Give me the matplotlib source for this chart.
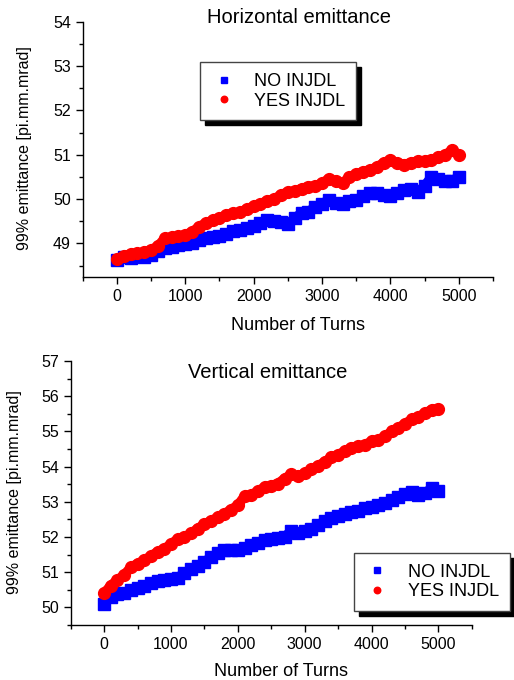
import numpy as np
import matplotlib
matplotlib.use('Agg')
import matplotlib.pyplot as plt
from matplotlib.ticker import MultipleLocator
from matplotlib.patches import Rectangle
from matplotlib.transforms import IdentityTransform

plt.rcParams['font.family'] = ['Liberation Sans', 'DejaVu Sans']

turns = np.arange(0, 5001, 100)

# Horizontal emittance
h_no = [48.62, 48.70, 48.68, 48.72, 48.70, 48.74, 48.82, 48.90, 48.92, 48.96,
        48.98, 49.02, 49.08, 49.12, 49.14, 49.18, 49.22, 49.28, 49.30, 49.36,
        49.40, 49.46, 49.52, 49.50, 49.48, 49.44, 49.58, 49.68, 49.72, 49.82,
        49.90, 49.98, 49.92, 49.90, 49.96, 49.98, 50.08, 50.14, 50.14, 50.10,
        50.06, 50.14, 50.20, 50.22, 50.16, 50.30, 50.50, 50.46, 50.40, 50.42, 50.50]
h_yes = [48.66, 48.72, 48.76, 48.78, 48.80, 48.86, 48.94, 49.12, 49.14, 49.16,
         49.20, 49.26, 49.38, 49.46, 49.52, 49.58, 49.64, 49.68, 49.70, 49.78,
         49.84, 49.90, 49.96, 50.00, 50.10, 50.16, 50.18, 50.24, 50.28, 50.30,
         50.36, 50.46, 50.40, 50.36, 50.50, 50.56, 50.62, 50.66, 50.72, 50.82,
         50.88, 50.82, 50.78, 50.82, 50.86, 50.86, 50.88, 50.94, 51.00, 51.10, 51.00]

# Vertical emittance
v_no = [50.10, 50.28, 50.38, 50.42, 50.48, 50.56, 50.62, 50.68, 50.76, 50.78,
        50.80, 50.84, 50.98, 51.08, 51.18, 51.30, 51.42, 51.54, 51.62, 51.62,
        51.64, 51.70, 51.76, 51.84, 51.92, 51.94, 51.96, 52.00, 52.18, 52.10,
        52.16, 52.24, 52.34, 52.46, 52.54, 52.60, 52.66, 52.70, 52.74, 52.82,
        52.86, 52.92, 52.96, 53.04, 53.14, 53.22, 53.28, 53.18, 53.26, 53.38, 53.30]
v_yes = [50.40, 50.62, 50.78, 50.92, 51.14, 51.24, 51.34, 51.46, 51.58, 51.66,
         51.80, 51.94, 52.00, 52.10, 52.24, 52.36, 52.46, 52.56, 52.66, 52.78,
         52.90, 53.16, 53.20, 53.30, 53.42, 53.46, 53.52, 53.66, 53.78, 53.72,
         53.82, 53.92, 54.02, 54.14, 54.26, 54.34, 54.44, 54.54, 54.58, 54.62,
         54.72, 54.76, 54.86, 55.00, 55.10, 55.22, 55.34, 55.42, 55.52, 55.62, 55.64]

BLUE = '#0000ff'
RED = '#ff0000'


def draw_panel(ax, no, yes, title, title_xy, ylim, ymaj, leg_xy, ylab_x, xlab_y):
    ax.plot(turns, no, '-', color=BLUE, lw=7, solid_capstyle='butt', zorder=2)
    ax.plot(turns, no, 's', color=BLUE, ms=8, ls='none', label='NO INJDL', zorder=2)
    ax.plot(turns, yes, '-', color=RED, lw=7, solid_capstyle='round', zorder=3)
    ax.plot(turns, yes, 'o', color=RED, ms=8.5, ls='none', label='YES INJDL', zorder=3)

    ax.set_xlim(-500, 5500)
    ax.set_ylim(*ylim)
    ax.xaxis.set_major_locator(MultipleLocator(1000))
    ax.xaxis.set_minor_locator(MultipleLocator(500))
    ax.yaxis.set_minor_locator(MultipleLocator(0.5))
    ax.set_yticks(ymaj)
    for s in ['top', 'right']:
        ax.spines[s].set_visible(False)
    for s in ['left', 'bottom']:
        ax.spines[s].set_linewidth(1.0)
    ax.tick_params(which='major', direction='out', length=5, width=1, labelsize=11.5)
    ax.tick_params(which='minor', direction='out', length=3, width=1)

    ax.set_xlabel('Number of Turns', fontsize=13)
    ax.set_ylabel('99% emittance [pi.mm.mrad]', fontsize=11.5)
    ax.yaxis.set_label_coords(ylab_x, 0.505)
    ax.xaxis.set_label_coords(0.525, xlab_y)
    ax.text(title_xy[0], title_xy[1], title, transform=ax.transAxes,
            ha='center', va='center', fontsize=14.5)

    leg = ax.legend(loc='upper left', bbox_to_anchor=leg_xy, fontsize=13,
                    markerscale=0.55, handlelength=1.4, handletextpad=1.0,
                    borderpad=0.6, labelspacing=0.15, borderaxespad=0,
                    fancybox=False, framealpha=1)
    leg.set_zorder(6)
    leg.get_frame().set_edgecolor('#444444')
    leg.get_frame().set_linewidth(1.0)
    return leg


fig = plt.figure(figsize=(5.14, 6.80), dpi=100)
ax1 = fig.add_axes([0.161, 0.593, 0.798, 0.375])
ax2 = fig.add_axes([0.1375, 0.081, 0.7805, 0.388])

leg1 = draw_panel(ax1, h_no, h_yes, 'Horizontal emittance', (0.527, 1.018),
                  (48.25, 54), [49, 50, 51, 52, 53, 54], (0.286, 0.842), -0.124, -0.157)
leg2 = draw_panel(ax2, v_no, v_yes, 'Vertical emittance', (0.492, 0.958),
                  (49.5, 57), [50, 51, 52, 53, 54, 55, 56, 57], (0.706, 0.273), -0.121, -0.144)

# black drop shadow behind each legend box, offset a few pixels
fig.canvas.draw()
for ax, leg in [(ax1, leg1), (ax2, leg2)]:
    bb = leg.get_frame().get_window_extent()
    ax.add_patch(Rectangle((bb.x0 + 5, bb.y0 - 5), bb.width, bb.height,
                           transform=IdentityTransform(), color='k',
                           zorder=5, clip_on=False))

fig.savefig('out.png', dpi=100)
